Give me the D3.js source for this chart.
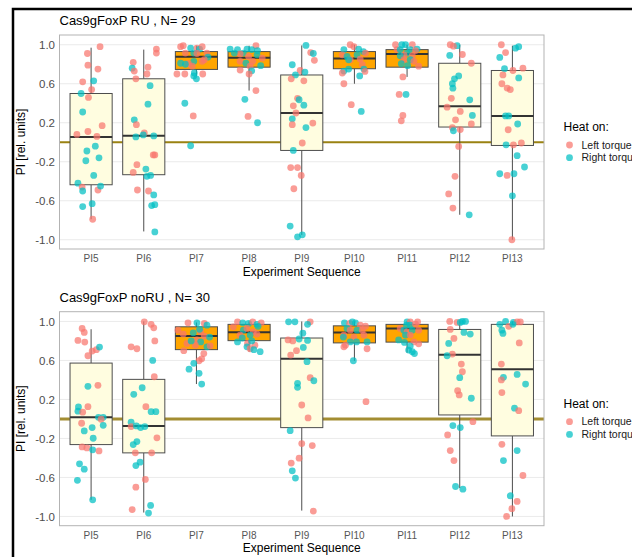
<!DOCTYPE html>
<html>
<head>
<meta charset="utf-8">
<script src="https://cdn.jsdelivr.net/npm/d3@7"></script>
<style>
  body { margin: 0; background: #fff; }
  text { font-family: "Liberation Sans", Arial, Helvetica, sans-serif; }
</style>
</head>
<body>
<svg id="chart" width="632" height="557"></svg>
<script>
// ---------- shared axes ----------
const categories = ["PI5", "PI6", "PI7", "PI8", "PI9", "PI10", "PI11", "PI12", "PI13"];
const trainingSteps = ["PI7", "PI8", "PI10", "PI11"];
const yTicks = [-1.0, -0.6, -0.2, 0.2, 0.6, 1.0];
const heatSides = ["Left torque", "Right torque"];

// ---------- Cas9gFoxP RU ----------
const ruTitle = "Cas9gFoxP RU , N= 29";
const ruLow  = [-0.79, -0.915, 0.68, 0.53, -0.95, 0.60, 0.67, -0.744, -1.0];
const ruQ1   = [-0.436, -0.333, 0.747, 0.77, -0.084, 0.754, 0.77, 0.156, -0.033];
const ruMed  = [0.053, 0.067, 0.877, 0.867, 0.30, 0.86, 0.905, 0.37, 0.27];
const ruQ3   = [0.50, 0.651, 0.93, 0.93, 0.69, 0.93, 0.95, 0.81, 0.736];
const ruHigh = [0.97, 0.95, 0.99, 0.99, 0.993, 1.0, 1.0, 1.0, 0.99];
// each fly: [PI, jitter (category units), heated side 0 = left, 1 = right]
const ruPoints = [
  [[0.98,0.17,0],[0.91,-0.07,0],[0.79,-0.06,0],[0.75,0.13,0],[0.62,-0.16,0],[0.63,0.05,1],[0.54,0.01,0],
   [0.50,-0.19,1],[0.46,-0.05,0],[0.31,-0.16,1],[0.17,0.21,0],[0.11,-0.06,0],[0.08,-0.27,0],[0.06,0.11,0],
   [-0.04,0.08,1],[-0.09,-0.08,1],[-0.19,-0.10,1],[-0.16,0.15,1],[-0.34,0.05,1],[-0.42,-0.25,1],[-0.46,-0.17,0],
   [-0.50,-0.16,1],[-0.49,0.13,0],[-0.45,0.18,1],[-0.66,-0.16,1],[-0.63,0.02,1],[-0.79,0.03,0]],
  [[0.956,0.24,0],[0.915,0.24,0],[0.82,-0.20,0],[0.77,0.08,0],[0.76,-0.22,1],[0.73,-0.18,0],[0.70,0.06,0],
   [0.65,-0.15,0],[0.58,0.12,1],[0.39,0.08,1],[0.23,-0.18,1],[0.18,-0.14,0],[0.055,-0.15,1],[0.095,0.01,0],
   [0.075,-0.01,1],[0.065,0.19,1],[-0.13,0.18,0],[-0.13,0.21,0],[-0.23,-0.13,0],[-0.31,-0.20,0],[-0.275,0.04,1],
   [-0.35,0.06,1],[-0.34,0.13,1],[-0.49,-0.12,0],[-0.50,0.09,0],[-0.54,0.19,1],[-0.65,0.15,1],[-0.64,0.21,1],
   [-0.92,0.21,1]],
  [[0.98,-0.30,0],[0.99,-0.25,0],[0.966,-0.11,1],[0.966,0.01,0],[0.956,0.06,1],[0.98,0.11,0],[0.915,-0.21,0],
   [0.915,-0.05,1],[0.91,0.01,0],[0.915,0.20,0],[0.874,0.22,1],[0.846,0.15,0],[0.81,-0.30,1],[0.83,-0.05,1],
   [0.83,0.11,0],[0.805,-0.15,0],[0.80,-0.21,1],[0.78,-0.08,0],[0.70,-0.37,0],[0.70,-0.22,0],[0.71,-0.04,1],
   [0.70,0.12,0],[0.68,-0.05,1],[0.65,0.0,1],[0.40,-0.22,1],[0.27,-0.06,0],[-0.036,-0.11,1]],
  [[0.956,-0.36,1],[0.95,-0.22,1],[0.956,-0.04,1],[0.99,0.13,0],[0.95,0.05,1],[0.94,0.16,1],[0.915,-0.11,1],
   [0.905,-0.17,0],[0.915,-0.28,1],[0.88,-0.01,0],[0.897,0.15,1],[0.863,0.25,0],[0.83,-0.17,0],[0.83,0.07,0],
   [0.81,-0.06,1],[0.785,0.22,1],[0.78,0.02,0],[0.74,-0.17,0],[0.733,0.05,1],[0.70,0.0,0],[0.53,0.13,0],
   [0.44,-0.08,1],[0.265,-0.02,0],[0.20,0.16,1]],
  [[0.993,0.08,1],[0.92,0.17,0],[0.91,0.22,1],[0.84,0.24,0],[0.795,-0.18,1],[0.736,-0.03,0],[0.72,0.06,1],
   [0.69,-0.12,1],[0.65,-0.20,0],[0.63,0.04,0],[0.45,-0.08,0],[0.436,-0.05,1],[0.374,-0.16,0],[0.38,0.04,1],
   [0.30,-0.11,0],[0.24,-0.18,1],[0.18,-0.18,0],[0.197,0.21,0],[0.15,0.08,1],[-0.008,0.01,0],[-0.084,-0.16,1],
   [-0.26,-0.21,0],[-0.26,-0.08,0],[-0.34,-0.01,0],[-0.477,-0.15,0],[-0.86,-0.22,1],[-0.97,-0.08,1],[-0.95,0.01,1]],
  [[1.0,-0.08,0],[0.95,-0.20,1],[0.98,-0.01,0],[0.956,0.08,1],[0.93,0.17,1],[0.915,0.21,0],[0.897,-0.23,0],
   [0.88,-0.14,1],[0.897,0.05,1],[0.846,-0.08,0],[0.846,-0.11,1],[0.853,0.11,0],[0.795,0.15,0],[0.75,-0.11,1],
   [0.75,0.18,1],[0.726,0.20,0],[0.68,0.10,1],[0.73,-0.20,1],[0.71,-0.23,0],[0.60,-0.20,0],[0.385,-0.06,0],
   [0.316,0.13,1]],
  [[1.0,-0.22,0],[1.0,-0.10,1],[1.0,-0.03,1],[1.0,0.10,0],[0.956,0.19,1],[0.95,-0.19,0],[0.95,-0.13,1],
   [0.95,0.06,1],[0.94,0.16,0],[0.915,0.0,1],[0.897,-0.06,0],[0.887,-0.13,1],[0.887,0.10,0],[0.846,-0.06,0],
   [0.846,0.06,1],[0.83,0.13,0],[0.78,0.22,0],[0.805,-0.11,1],[0.785,0.01,1],[0.67,-0.08,0],[0.49,-0.15,0],
   [0.49,-0.02,1],[0.275,-0.08,0],[0.22,-0.11,0]],
  [[1.0,-0.18,0],[0.99,-0.05,1],[0.985,-0.12,0],[0.89,-0.19,1],[0.90,0.05,0],[0.81,0.22,0],[0.68,-0.02,1],
   [0.65,-0.10,1],[0.60,-0.14,1],[0.555,-0.13,1],[0.45,-0.16,0],[0.435,0.19,1],[0.36,-0.24,0],[0.316,0.01,0],
   [0.275,0.24,1],[0.23,-0.08,0],[0.187,0.22,0],[0.15,-0.14,0],[0.118,-0.12,1],[0.13,0.01,0],[-0.043,-0.02,0],
   [-0.35,-0.09,0],[-0.53,-0.21,0],[-0.675,-0.13,0],[-0.744,0.18,1]],
  [[1.0,-0.21,0],[0.965,0.06,1],[0.98,0.12,1],[0.92,-0.13,0],[0.87,-0.24,1],[0.754,-0.15,1],[0.736,0.01,0],
   [0.76,0.20,0],[0.66,0.12,1],[0.69,-0.18,0],[0.60,-0.20,0],[0.556,-0.10,0],[0.54,-0.04,0],[0.27,-0.13,1],
   [0.27,-0.07,1],[0.187,0.10,1],[0.128,-0.08,0],[-0.026,-0.12,1],[-0.026,0.02,0],[-0.008,0.17,0],[-0.138,0.09,1],
   [-0.254,0.23,1],[-0.323,-0.24,1],[-0.34,-0.10,0],[-0.323,0.03,1],[-0.55,0.0,1],[-1.0,-0.01,0]]
];

// ---------- Cas9gFoxP noRU ----------
const noruTitle = "Cas9gFoxP noRU , N= 30";
const noruLow  = [-0.83, -0.96, 0.358, 0.69, -0.94, 0.597, 0.68, -0.71, -1.0];
const noruQ1   = [-0.263, -0.348, 0.711, 0.803, -0.089, 0.78, 0.788, 0.041, -0.174];
const noruMed  = [0.017, -0.072, 0.85, 0.89, 0.617, 0.887, 0.928, 0.658, 0.509];
const noruQ3   = [0.573, 0.406, 0.945, 0.97, 0.83, 0.955, 0.97, 0.918, 0.97];
const noruHigh = [0.92, 1.0, 0.99, 1.0, 1.0, 1.0, 1.0, 1.0, 1.0];
const noruPoints = [
  [[0.928,-0.17,0],[0.887,-0.13,0],[0.805,-0.25,0],[0.788,-0.12,0],[0.696,0.02,0],[0.71,0.10,0],[0.737,0.16,1],
   [0.648,-0.06,0],[0.335,-0.06,1],[0.345,0.13,0],[0.123,-0.24,1],[0.126,-0.06,0],[0.08,-0.25,1],[0.069,-0.16,0],
   [0.017,0.14,1],[0.017,0.23,1],[-0.003,0.19,0],[-0.044,-0.18,0],[-0.089,0.02,1],[-0.065,0.23,1],[-0.123,-0.13,1],
   [-0.198,0.04,1],[-0.287,-0.17,0],[-0.297,-0.08,0],[-0.317,0.03,1],[-0.328,0.15,0],[-0.46,-0.22,1],[-0.515,-0.13,1],
   [-0.63,-0.26,1],[-0.83,0.03,1]],
  [[0.996,0.01,0],[0.97,0.14,0],[0.935,0.19,0],[0.74,-0.24,0],[0.72,-0.13,0],[0.80,0.21,0],[0.60,0.17,1],
   [0.433,0.20,0],[0.32,-0.03,1],[0.253,-0.19,1],[0.126,0.04,0],[0.075,0.14,1],[0.075,0.23,1],[-0.034,-0.24,1],
   [-0.078,-0.24,0],[-0.072,-0.14,1],[-0.089,-0.06,1],[-0.078,0.02,1],[-0.194,0.25,0],[-0.232,-0.13,1],[-0.263,-0.20,1],
   [-0.348,-0.16,0],[-0.348,0.15,0],[-0.443,-0.07,1],[-0.478,-0.15,1],[-0.62,0.03,0],[-0.70,-0.15,0],[-0.93,-0.22,0],
   [-0.887,0.13,1],[-0.965,0.09,1]],
  [[0.986,-0.16,0],[0.986,0.01,1],[0.98,0.15,0],[0.962,0.20,1],[0.91,-0.35,0],[0.87,-0.25,0],[0.883,-0.06,1],
   [0.894,0.08,0],[0.85,0.15,0],[0.84,0.25,1],[0.81,0.01,0],[0.775,-0.18,0],[0.79,0.08,1],[0.757,-0.02,0],
   [0.74,0.20,1],[0.70,-0.24,0],[0.67,0.14,0],[0.617,0.10,0],[0.597,0.05,0],[0.57,-0.05,1],[0.51,-0.14,1],
   [0.468,0.05,1],[0.358,0.10,1],[0.92,0.06,1],[0.80,-0.10,1],[0.75,0.26,0]],
  [[0.996,-0.22,0],[0.986,-0.12,1],[0.98,-0.01,1],[0.996,0.07,0],[0.97,0.15,1],[0.986,0.23,0],[0.945,-0.30,0],
   [0.91,-0.11,1],[0.928,-0.04,0],[0.894,0.08,0],[0.86,-0.17,0],[0.86,0.02,1],[0.87,0.15,0],[0.79,-0.22,1],
   [0.775,-0.03,0],[0.757,0.11,0],[0.74,-0.04,1],[0.72,0.02,0],[0.71,0.09,1],[0.69,0.21,1],[0.95,0.17,1],
   [0.83,-0.13,1],[0.80,0.05,1]],
  [[0.996,-0.25,1],[0.996,-0.13,1],[0.996,0.16,0],[0.97,0.11,1],[0.80,-0.17,0],[0.82,-0.05,1],[0.81,-0.26,0],
   [0.805,0.11,1],[0.734,0.03,1],[0.70,-0.10,0],[0.655,-0.21,0],[0.587,0.10,1],[0.365,-0.08,1],[0.324,-0.08,1],
   [0.423,0.16,0],[0.392,0.23,1],[0.143,0.0,0],[0.01,0.12,0],[-0.12,-0.22,1],[-0.253,0.0,0],[-0.273,0.20,0],
   [-0.402,-0.05,0],[-0.453,-0.20,0],[-0.532,-0.18,1],[-0.607,-0.12,1],[-0.945,0.22,0],[0.88,0.02,1]],
  [[0.986,-0.19,1],[0.98,-0.09,0],[0.996,-0.04,1],[0.986,0.02,1],[0.962,0.11,0],[0.952,0.21,0],[0.928,-0.14,1],
   [0.91,-0.08,0],[0.91,0.05,1],[0.91,0.15,0],[0.86,-0.20,0],[0.84,-0.21,1],[0.84,-0.01,0],[0.86,0.18,0],
   [0.79,-0.08,1],[0.79,0.04,1],[0.757,-0.17,0],[0.79,0.24,1],[0.74,-0.20,0],[0.72,0.24,0],[0.597,-0.02,1],
   [0.177,0.22,0]],
  [[0.996,0.0,1],[0.996,0.06,0],[0.996,0.20,0],[0.962,-0.01,1],[0.962,0.06,1],[0.972,0.16,0],[0.928,-0.13,0],
   [0.91,-0.06,1],[0.894,0.0,0],[0.91,0.10,1],[0.91,0.22,0],[0.86,-0.03,1],[0.86,0.06,0],[0.81,-0.16,1],
   [0.785,-0.05,1],[0.79,0.13,0],[0.77,0.22,0],[0.747,0.06,1],[0.706,0.03,1],[0.69,0.10,1],[0.67,0.14,1]],
  [[1.0,-0.19,0],[0.99,-0.05,0],[1.0,0.05,1],[1.0,0.11,1],[0.99,0.01,1],[0.918,-0.18,0],[0.887,0.08,1],
   [0.87,0.20,1],[0.826,-0.11,0],[0.775,-0.21,1],[0.665,-0.14,0],[0.648,-0.24,1],[0.563,0.03,0],[0.484,0.05,0],
   [0.423,0.0,1],[0.29,-0.04,0],[0.246,-0.01,0],[0.212,0.22,1],[-0.068,-0.13,1],[-0.089,0.01,1],[-0.028,0.25,0],
   [-0.164,-0.23,0],[-0.324,-0.18,0],[-0.427,-0.11,0],[-0.693,-0.08,1],[-0.72,0.06,1]],
  [[0.97,-0.24,1],[1.0,-0.13,1],[0.99,0.02,1],[0.995,0.09,0],[0.995,0.15,0],[0.95,-0.07,0],[0.97,0.01,1],
   [0.91,-0.20,1],[0.877,-0.18,1],[0.78,0.13,0],[0.563,-0.21,0],[0.427,-0.17,1],[0.40,-0.21,0],[0.457,0.09,1],
   [0.358,0.25,1],[0.27,-0.20,0],[0.11,0.04,1],[0.085,0.12,0],[-0.26,-0.20,0],[-0.324,0.09,1],[-0.427,-0.17,1],
   [-0.58,0.20,0],[-0.788,-0.04,1],[-0.846,0.09,0],[-0.92,-0.01,0],[-1.0,-0.11,0]]
];

// ---------- drawing ----------
const W = 632, H = 557;
const plotLeft = 59.5, plotRight = 544, plotHeight = 214;
const sideColor = d3.scaleOrdinal().domain([0, 1]).range(["#F8766D", "#00BFC4"]);

const svg = d3.select("#chart");
svg.append("rect").attr("width", W).attr("height", H).attr("fill", "#fff");

// outer frame (left and top edges)
svg.append("path")
  .attr("d", `M13,${H}V9H${W}`)
  .attr("fill", "none").attr("stroke", "#000").attr("stroke-width", 2.5);

const x = d3.scalePoint().domain(categories).range([plotLeft, plotRight]).padding(0.6);
const step = x.step();
const boxW = step * 0.8;

function drawPanel(p) {
  const top = p.top, bottom = top + plotHeight;
  const y = d3.scaleLinear().domain([-1.095, 1.1]).range([bottom, top]);
  const g = svg.append("g");

  // title
  g.append("text").attr("x", plotLeft).attr("y", top - 10)
    .attr("font-size", 13).attr("fill", "#000").text(p.title);

  // panel background + grid
  g.append("rect").attr("x", plotLeft).attr("y", top)
    .attr("width", plotRight - plotLeft).attr("height", plotHeight).attr("fill", "#fff");
  g.append("g").selectAll("line").data(yTicks).join("line")
    .attr("x1", plotLeft).attr("x2", plotRight)
    .attr("y1", d => y(d)).attr("y2", d => y(d))
    .attr("stroke", "#EBEBEB").attr("stroke-width", 1);

  // zero reference line
  g.append("line").attr("x1", plotLeft).attr("x2", plotRight)
    .attr("y1", y(0)).attr("y2", y(0))
    .attr("stroke", p.zeroColor).attr("stroke-width", p.zeroWidth);

  // boxes
  const stats = categories.map((c, i) => ({
    c, lo: p.low[i], q1: p.q1[i], med: p.med[i], q3: p.q3[i], hi: p.high[i]
  }));
  const box = g.append("g").selectAll("g").data(stats).join("g");
  box.append("line").attr("x1", d => x(d.c)).attr("x2", d => x(d.c))
    .attr("y1", d => y(d.hi)).attr("y2", d => y(d.q3))
    .attr("stroke", "#4D4D4D").attr("stroke-width", 1);
  box.append("line").attr("x1", d => x(d.c)).attr("x2", d => x(d.c))
    .attr("y1", d => y(d.q1)).attr("y2", d => y(d.lo))
    .attr("stroke", "#4D4D4D").attr("stroke-width", 1);
  box.append("rect")
    .attr("x", d => x(d.c) - boxW / 2).attr("width", boxW)
    .attr("y", d => y(d.q3)).attr("height", d => y(d.q1) - y(d.q3))
    .attr("fill", d => trainingSteps.includes(d.c) ? "#FFA500" : "#FFFDE0")
    .attr("stroke", "#4D4D4D").attr("stroke-width", 1);
  box.append("line")
    .attr("x1", d => x(d.c) - boxW / 2).attr("x2", d => x(d.c) + boxW / 2)
    .attr("y1", d => y(d.med)).attr("y2", d => y(d.med))
    .attr("stroke", "#333").attr("stroke-width", 2);

  // individual flies
  const pts = [];
  p.points.forEach((arr, i) => arr.forEach(d => pts.push({ c: categories[i], v: d[0], j: d[1], s: d[2] })));
  g.append("g").selectAll("circle").data(pts).join("circle")
    .attr("cx", d => x(d.c) + d.j * step).attr("cy", d => y(d.v)).attr("r", 3.4)
    .attr("fill", d => sideColor(d.s)).attr("fill-opacity", 0.72);

  // panel border
  g.append("rect").attr("x", plotLeft).attr("y", top)
    .attr("width", plotRight - plotLeft).attr("height", plotHeight)
    .attr("fill", "none").attr("stroke", "#B3B3B3").attr("stroke-width", 1);

  // y axis labels
  g.append("g").selectAll("text").data(yTicks).join("text")
    .attr("x", 55).attr("y", d => y(d)).attr("dy", "0.36em")
    .attr("text-anchor", "end").attr("font-size", 11.5).attr("fill", "#4D4D4D")
    .text(d => d.toFixed(1));
  // x axis labels
  g.append("g").selectAll("text").data(categories).join("text")
    .attr("x", d => x(d)).attr("y", bottom + 13)
    .attr("text-anchor", "middle").attr("font-size", 10).attr("fill", "#555")
    .text(d => d);
  // axis titles
  g.append("text").attr("x", (plotLeft + plotRight) / 2).attr("y", bottom + 26.5)
    .attr("text-anchor", "middle").attr("font-size", 12).attr("fill", "#000")
    .text("Experiment Sequence");
  g.append("text")
    .attr("transform", `translate(25,${(top + bottom) / 2}) rotate(-90)`)
    .attr("text-anchor", "middle").attr("font-size", 12).attr("fill", "#000")
    .text("PI [rel. units]");

  // legend
  const lg = g.append("g");
  lg.append("text").attr("x", 563.5).attr("y", top + 96)
    .attr("font-size", 12).attr("fill", "#000").text("Heat on:");
  heatSides.forEach((label, i) => {
    const cy = top + 110 + i * 12.7;
    lg.append("circle").attr("cx", 569.5).attr("cy", cy).attr("r", 3.4)
      .attr("fill", sideColor(i)).attr("fill-opacity", 0.72);
    lg.append("text").attr("x", 581.5).attr("y", cy).attr("dy", "0.36em")
      .attr("font-size", 10.5).attr("fill", "#1a1a1a").text(label);
  });
}

drawPanel({
  top: 35, title: ruTitle,
  low: ruLow, q1: ruQ1, med: ruMed, q3: ruQ3, high: ruHigh, points: ruPoints,
  zeroColor: "#9A8212", zeroWidth: 2
});
drawPanel({
  top: 311.7, title: noruTitle,
  low: noruLow, q1: noruQ1, med: noruMed, q3: noruQ3, high: noruHigh, points: noruPoints,
  zeroColor: "#A38D32", zeroWidth: 3
});
</script>
</body>
</html>
